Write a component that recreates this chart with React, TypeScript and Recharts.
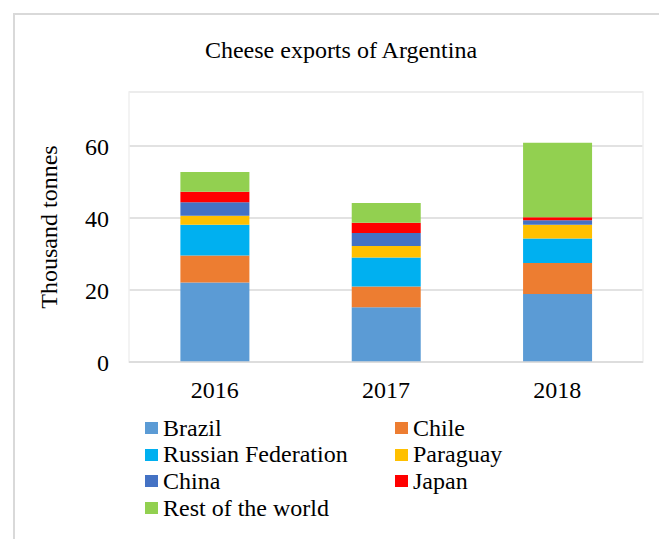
import React from 'react';
import {
  BarChart,
  Bar,
  XAxis,
  YAxis,
  CartesianGrid,
  ReferenceArea,
} from 'recharts';

const years = ['2016', '2017', '2018'];
const brazil = [22.1, 15.2, 18.9];
const chile = [7.5, 5.8, 8.6];
const russia = [8.5, 8.0, 6.8];
const paraguay = [2.5, 3.2, 3.8];
const china = [3.8, 3.6, 1.3];
const japan = [2.9, 2.9, 0.8];
const rest = [5.5, 5.5, 20.7];
const yTicks = [0, 20, 40, 60];

const series = [
  { key: 'brazil', name: 'Brazil', values: brazil, color: '#5B9BD5' },
  { key: 'chile', name: 'Chile', values: chile, color: '#ED7D31' },
  { key: 'russia', name: 'Russian Federation', values: russia, color: '#00B0F0' },
  { key: 'paraguay', name: 'Paraguay', values: paraguay, color: '#FFC000' },
  { key: 'china', name: 'China', values: china, color: '#4472C4' },
  { key: 'japan', name: 'Japan', values: japan, color: '#FF0000' },
  { key: 'rest', name: 'Rest of the world', values: rest, color: '#92D050' },
];

const data = years.map((year, i) => {
  const row: Record<string, string | number> = { year };
  series.forEach((s) => {
    row[s.key] = s.values[i];
  });
  return row;
});

const font = '"Liberation Serif", "Times New Roman", serif';

export default function App() {
  return (
    <div
      style={{
        position: 'absolute',
        left: 0,
        top: 0,
        width: 659,
        height: 539,
        overflow: 'hidden',
        background: '#fff',
        fontFamily: font,
      }}
    >
      <div
        style={{
          position: 'absolute',
          left: 13,
          top: 13,
          width: 700,
          height: 600,
          border: '2px solid #d9d9d9',
        }}
      />
      <div
        style={{
          position: 'absolute',
          left: 141,
          width: 400,
          top: 38,
          fontSize: 24,
          lineHeight: '24px',
          textAlign: 'center',
          color: '#000',
        }}
      >
        Cheese exports of Argentina
      </div>
      <div style={{ position: 'absolute', left: 0, top: 0 }}>
        <BarChart
          width={659}
          height={539}
          data={data}
          margin={{ top: 92, right: 16, bottom: 137, left: 0 }}
          barCategoryGap="30%"
        >
          <ReferenceArea y1={0} y2={75} fill="none" stroke="#efefef" strokeWidth={1.5} />
          <CartesianGrid vertical={false} stroke="#d9d9d9" strokeWidth={1.5} />
          <XAxis
            dataKey="year"
            height={40}
            axisLine={{ stroke: '#d9d9d9', strokeWidth: 1.5 }}
            tickLine={false}
            tickSize={0}
            tickMargin={19}
            tick={{ fill: '#000', fontSize: 24, fontFamily: font }}
          />
          <YAxis
            width={129}
            domain={[0, 75]}
            ticks={yTicks}
            axisLine={false}
            tickLine={false}
            tickSize={0}
            tickMargin={20}
            tick={{ fill: '#000', fontSize: 24, fontFamily: font }}
            label={{
              value: 'Thousand tonnes',
              angle: -90,
              position: 'insideLeft',
              offset: 48,
              style: { textAnchor: 'middle', fill: '#000', fontSize: 24, fontFamily: font },
            }}
          />
          {series.map((s) => (
            <Bar
              key={s.key}
              dataKey={s.key}
              name={s.name}
              stackId="a"
              fill={s.color}
              isAnimationActive={false}
            />
          ))}
        </BarChart>
      </div>
      <div
        style={{
          position: 'absolute',
          left: 145,
          top: 414.6,
          display: 'grid',
          gridTemplateColumns: '250px 250px',
          gridAutoRows: '26.7px',
          fontSize: 24,
          lineHeight: '26.7px',
          color: '#000',
        }}
      >
        {series.map((s) => (
          <div key={s.key} style={{ display: 'flex', alignItems: 'center', whiteSpace: 'nowrap' }}>
            <span
              style={{
                display: 'inline-block',
                width: 13,
                height: 12,
                background: s.color,
                marginRight: 5,
              }}
            />
            {s.name}
          </div>
        ))}
      </div>
    </div>
  );
}
